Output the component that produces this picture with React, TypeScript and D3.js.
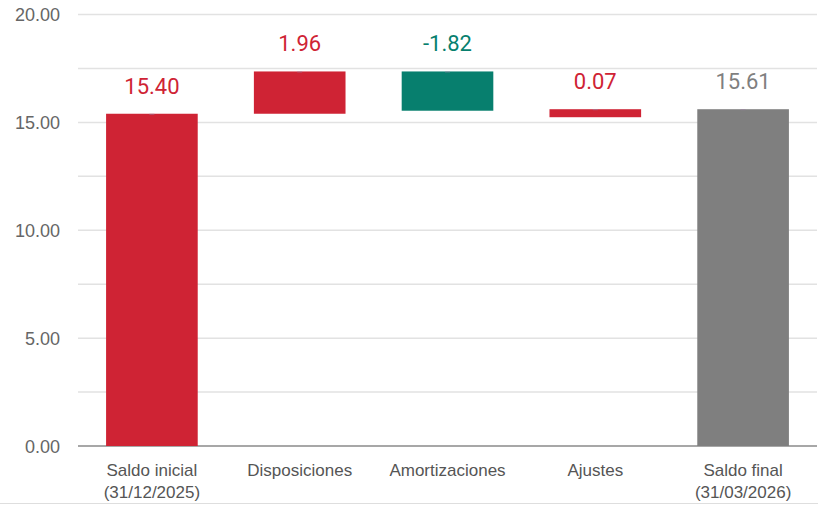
import React from "react";
import { scaleBand, scaleLinear, range } from "d3";

// chart data
const categories = ["Saldo inicial|(31/12/2025)", "Disposiciones", "Amortizaciones", "Ajustes", "Saldo final|(31/03/2026)"];
const values = [15.4, 1.96, -1.82, 0.07, 15.61];
const isTotal = [true, false, false, false, true];
const yTicks = [0, 5, 10, 15, 20];

const colors = {
  up: "#cf2334",
  down: "#077f6e",
  total: "#7f7f7f",
};

const width = 825;
const height = 505;
const margin = { top: 14.5, right: 8, bottom: 59, left: 78 };

const App = () => {
  const xScale = scaleBand()
    .domain(categories)
    .range([margin.left, width - margin.right])
    .paddingInner(0.38)
    .paddingOuter(0.19);

  const yScale = scaleLinear()
    .domain([0, 20])
    .range([height - margin.bottom, margin.top]);

  // waterfall steps
  let running = 0;
  const bars = categories.map((c, i) => {
    const v = values[i];
    let y0: number, y1: number, color: string;
    if (isTotal[i]) {
      y0 = 0;
      y1 = v;
      running = v;
      color = i === 0 ? colors.up : colors.total;
    } else {
      y0 = running;
      y1 = running + v;
      running = y1;
      color = v >= 0 ? colors.up : colors.down;
    }
    return { c, v, y0, y1, color };
  });

  const gridValues = range(0, 20.01, 2.5);
  const x0 = margin.left;
  const x1 = width - margin.right;
  const bw = xScale.bandwidth();

  return (
    <div style={{ position: "absolute", left: 0, top: 0 }}>
      <svg width={width} height={height} style={{ display: "block" }}>
        {gridValues.map((g) => (
          <line
            key={g}
            x1={x0}
            x2={x1}
            y1={yScale(g)}
            y2={yScale(g)}
            stroke={g === 0 ? "#8a8a8a" : "#e2e2e2"}
            strokeWidth={g === 0 ? 1.5 : 1.5}
          />
        ))}
        {yTicks.map((t) => (
          <text
            key={t}
            x={60}
            y={yScale(t) + 6.5}
            textAnchor="end"
            fontFamily="'Liberation Sans', Arial, sans-serif"
            fontSize={18}
            fill="#666"
          >
            {t.toFixed(2)}
          </text>
        ))}
        {bars.map((b) => {
          const top = yScale(Math.max(b.y0, b.y1));
          const bottom = yScale(Math.min(b.y0, b.y1));
          const h = Math.max(bottom - top, 8);
          const cx = (xScale(b.c) as number) + bw / 2;
          return (
            <g key={b.c}>
              <rect x={xScale(b.c)} y={top} width={bw} height={h} fill={b.color} />
              <line x1={cx - 2.5} x2={cx + 2.5} y1={top + 0.5} y2={top + 0.5} stroke="#9a7fa0" strokeWidth={1} opacity={0.6} />
              <text
                x={cx}
                y={top - 20}
                textAnchor="middle"
                fontFamily="Roboto, sans-serif"
                fontSize={22}
                fill={b.color}
              >
                {b.v.toFixed(2)}
              </text>
            </g>
          );
        })}
        {categories.map((c) => {
          const cx = (xScale(c) as number) + bw / 2;
          return (
            <text
              key={c}
              x={cx}
              y={height - margin.bottom + 30}
              textAnchor="middle"
              fontFamily="'Liberation Sans', Arial, sans-serif"
              fontSize={17}
              fill="#555"
            >
              {c.split("|").map((line, i) => (
                <tspan key={i} x={cx} dy={i === 0 ? 0 : 22}>
                  {line}
                </tspan>
              ))}
            </text>
          );
        })}
        <line x1={0} x2={818} y1={503.5} y2={503.5} stroke="#dedede" strokeWidth={1} />
      </svg>
    </div>
  );
};

export default App;
